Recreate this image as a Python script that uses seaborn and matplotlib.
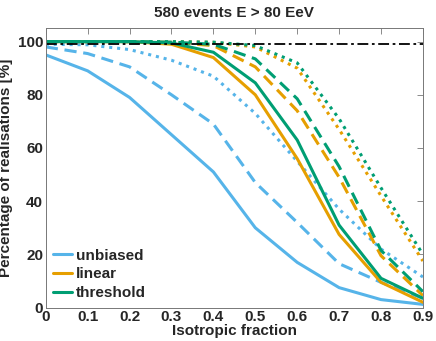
import pandas as pd
import seaborn as sns
import matplotlib.pyplot as plt
from matplotlib.lines import Line2D

# === Data ===
frac = [0.0, 0.1, 0.2, 0.3, 0.4, 0.5, 0.6, 0.7, 0.8, 0.9]

unbiased_a = [95, 89, 79, 65, 51, 30, 17, 7.5, 3, 1.2]
unbiased_b = [98, 95.5, 90.5, 80, 69, 47, 32, 16.5, 9.5, 3.5]
unbiased_c = [99, 98.8, 97, 93, 87, 73, 55, 37, 22, 11.5]

linear_a = [100, 100, 100, 99, 94, 80, 56, 27.5, 9.5, 2]
linear_b = [100, 100, 100, 99.7, 98.5, 90.5, 74, 49, 19.5, 4.5]
linear_c = [100, 100, 100, 100, 99.7, 98, 90, 67, 42, 17.5]

threshold_a = [100, 100, 100, 99.5, 96, 84.5, 63, 31, 11, 3.5]
threshold_b = [100, 100, 100, 99.8, 99, 93.5, 78.5, 53, 21.5, 6]
threshold_c = [100, 100, 100, 100, 99.8, 98.5, 92, 71, 45, 20]

models = ['unbiased', 'linear', 'threshold']
series = {
    ('unbiased', 'a'): unbiased_a, ('unbiased', 'b'): unbiased_b, ('unbiased', 'c'): unbiased_c,
    ('linear', 'a'): linear_a, ('linear', 'b'): linear_b, ('linear', 'c'): linear_c,
    ('threshold', 'a'): threshold_a, ('threshold', 'b'): threshold_b, ('threshold', 'c'): threshold_c,
}
level_99 = 99

rows = []
for (m, c), vals in series.items():
    for f, v in zip(frac, vals):
        rows.append({'frac': f, 'pct': v, 'model': m, 'cut': c})
df = pd.DataFrame(rows)

palette = {'unbiased': '#56B4E9', 'linear': '#E69F00', 'threshold': '#009E73'}
dashes = {'a': '', 'b': (4, 2.2), 'c': (1, 1.6)}

sns.set_style('white')
plt.rcParams['font.family'] = ['Liberation Sans', 'DejaVu Sans']
plt.rcParams['font.weight'] = 'bold'

fig = plt.figure(figsize=(4.36, 3.41), dpi=100)
ax = fig.add_axes([0.105, 0.098, 0.865, 0.819])

sns.lineplot(data=df, x='frac', y='pct', hue='model', style='cut',
             palette=palette, dashes=dashes, linewidth=2.2, legend=False, ax=ax)

ax.axhline(level_99, color='black', linewidth=1.3, dashes=(6, 2, 1.5, 2))

ax.set_xlim(0, 0.9)
ax.set_ylim(0, 105)
ax.set_xticks(frac)
ax.set_xticklabels(['0' if f == 0 else f'{f:g}' for f in frac])
ax.set_yticks([0, 20, 40, 60, 80, 100])
ax.tick_params(direction='in', length=4, width=0.6, color='#777777', labelsize=11,
               top=True, right=True, pad=2)
for lab in ax.get_xticklabels() + ax.get_yticklabels():
    lab.set_fontweight('bold')
for s in ax.spines.values():
    s.set_color('#777777')
    s.set_linewidth(0.7)

ax.set_xlabel('Isotropic fraction', fontsize=11, fontweight='bold', labelpad=0)
ax.set_ylabel('Percentage of realisations [%]', fontsize=11, fontweight='bold', labelpad=3)
ax.set_title('580 events E > 80 EeV', fontsize=11, fontweight='bold', pad=8)

handles = [Line2D([0], [0], color=palette[m], linewidth=2.2, label=m) for m in models]
ax.legend(handles=handles, loc='lower left', frameon=False, handlelength=1.2,
          handletextpad=0.3, labelspacing=0.3, borderaxespad=0.1,
          prop={'size': 11, 'weight': 'bold'})

fig.savefig('out.png', dpi=100)
